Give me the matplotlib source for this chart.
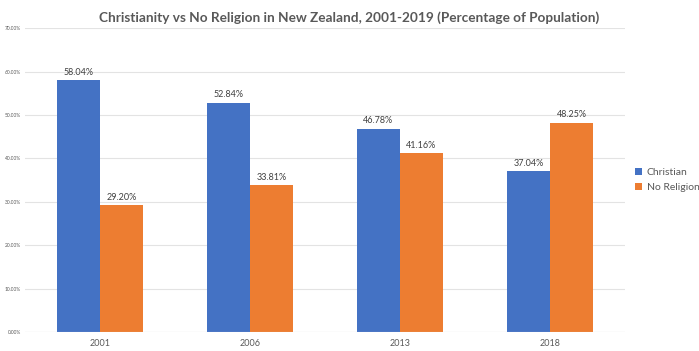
import numpy as np
import matplotlib
matplotlib.use("Agg")
from matplotlib import pyplot as plt

years = ["2001", "2006", "2013", "2018"]
christian = [58.04, 52.84, 46.78, 37.04]
no_religion = [29.20, 33.81, 41.16, 48.25]
yticks = [0, 10, 20, 30, 40, 50, 60, 70]

plt.rcParams['font.family'] = ['Lato', 'DejaVu Sans']

fig = plt.figure(figsize=(6.99, 3.51), dpi=100)
ax = fig.add_axes([0.036, 0.054, 0.858, 0.866])

x = np.arange(len(years))
w = 0.287
b1 = ax.bar(x - w / 2, christian, w, color='#4472C4', label='Christian', zorder=3)
b2 = ax.bar(x + w / 2, no_religion, w, color='#ED7D31', label='No Religion', zorder=3)

for bars in (b1, b2):
    for bar in bars:
        h = bar.get_height()
        ax.text(bar.get_x() + bar.get_width() / 2, h + 0.8, f"{h:.2f}%",
                ha='center', va='bottom', fontsize=6.5, color='#404040')

ax.set_xlim(-0.5, len(years) - 0.5)
ax.set_ylim(0, 70)
ax.set_xticks(x)
ax.set_xticklabels(years, fontsize=6.5, color='#595959')
ax.set_yticks(yticks)
ax.set_yticklabels([f"{v:.2f}%" for v in yticks], fontsize=3.5, color='#595959')
ax.tick_params(length=0, pad=3)
ax.tick_params(axis='x', pad=5)
ax.grid(axis='y', color='#E3E3E3', linewidth=0.8, zorder=0)
for s in ax.spines.values():
    s.set_visible(False)
ax.axhline(0, color='#D9D9D9', linewidth=0.8, zorder=4)

fig.text(0.5, 0.95, "Christianity vs No Religion in New Zealand, 2001-2019 (Percentage of Population)",
         ha='center', va='center', fontsize=9.8, fontweight='bold', color='#595959')

ax.legend(loc='center left', bbox_to_anchor=(1.005, 0.5), frameon=False, fontsize=7.5,
          handlelength=0.7, handleheight=0.7, handletextpad=0.4, labelcolor='#595959',
          borderaxespad=0.3)

fig.savefig("out.png", dpi=100)
